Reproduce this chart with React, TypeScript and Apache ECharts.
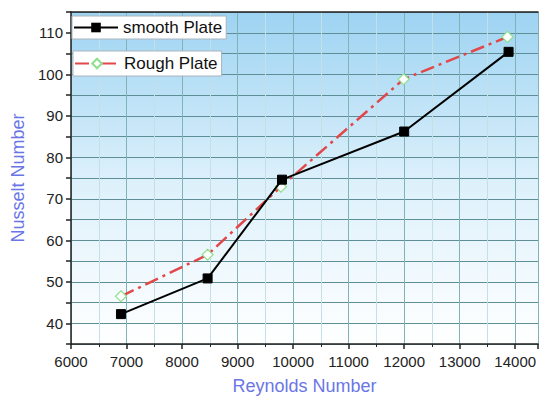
import React, { useEffect, useRef } from "react";
import * as echarts from "echarts";

const reynoldsSmooth = [6900, 8460, 9800, 12000, 13880];
const nusseltSmooth = [42.2, 50.8, 74.6, 86.2, 105.4];
const reynoldsRough = [6900, 8460, 9780, 11990, 13860];
const nusseltRough = [46.5, 56.5, 72.9, 98.8, 109.0];

export default function App() {
  const ref = useRef<HTMLDivElement>(null);
  useEffect(() => {
    const chart = echarts.init(ref.current!, null, { renderer: "svg" });
    const font = "Liberation Sans, Arial, sans-serif";
    const pair = (xs: number[], ys: number[]) => xs.map((x, i) => [x, ys[i]]);
    chart.setOption({
      animation: false,
      backgroundColor: "#ffffff",
      textStyle: { fontFamily: font },
      grid: {
        left: 71,
        right: 3,
        top: 12,
        bottom: 54,
        outerBoundsMode: "none",
        containLabel: false,
        show: true,
        borderWidth: 0,
        backgroundColor: new echarts.graphic.LinearGradient(0, 0, 0, 1, [
          { offset: 0, color: "#9dd3f2" },
          { offset: 0.5, color: "#dcf0fb" },
          { offset: 1, color: "#ffffff" },
        ]),
      },
      legend: [
        {
          data: ["smooth Plate"],
          left: 72,
          top: 16,
          orient: "vertical",
          backgroundColor: "#ffffff",
          borderColor: "#aab4bc",
          borderWidth: 1,
          borderRadius: 0,
          padding: [3, 4, 3, 1],
          itemWidth: 44,
          itemHeight: 12,
          textStyle: { fontSize: 17, color: "#111", fontFamily: font },
        },
        {
          data: ["Rough Plate"],
          left: 73,
          top: 51,
          orient: "vertical",
          backgroundColor: "#ffffff",
          borderColor: "#aab4bc",
          borderWidth: 1,
          borderRadius: 0,
          padding: [4, 4, 4, 1],
          itemWidth: 44,
          itemHeight: 12,
          textStyle: { fontSize: 17, color: "#111", fontFamily: font },
        },
      ],
      xAxis: [
        {
          type: "value",
          min: 6000,
          max: 14410,
          interval: 1000,
          name: "Reynolds Number",
          nameLocation: "middle",
          nameGap: 33,
          nameTextStyle: { color: "#6a76e6", fontSize: 18, fontFamily: font },
          axisLine: { show: true, onZero: false, lineStyle: { color: "#222", width: 1.5 } },
          axisTick: { show: true, inside: false, length: 5, lineStyle: { color: "#222", width: 1.5 } },
          minorTick: { show: true, splitNumber: 2, length: 3, lineStyle: { color: "#222" } },
          axisLabel: {
            color: "#222",
            fontSize: 15,
            margin: 10,
            showMaxLabel: false,
            fontFamily: font,
            formatter: (v: number) => String(v),
          },
          splitLine: { show: true, lineStyle: { color: "#7fb3b8", width: 1 } },
          minorSplitLine: { show: true, lineStyle: { color: "#c4e0e6", width: 1 } },
        },
        {
          type: "value",
          position: "top",
          min: 6000,
          max: 14410,
          axisLine: { show: true, lineStyle: { color: "#222", width: 1.5 } },
          axisTick: { show: false },
          axisLabel: { show: false },
          splitLine: { show: false },
        },
      ],
      yAxis: {
        type: "value",
        min: 35,
        max: 115,
        interval: 5,
        name: "Nusselt Number",
        nameLocation: "middle",
        nameGap: 40,
        nameTextStyle: { color: "#6a76e6", fontSize: 18, fontFamily: font },
        axisLine: { show: true, onZero: false, lineStyle: { color: "#222", width: 1.5 } },
        axisTick: { show: true, length: 5, lineStyle: { color: "#222", width: 1.5 } },
        axisLabel: {
          color: "#222",
          fontSize: 15,
          margin: 8,
          fontFamily: font,
          formatter: (v: number) => (v % 10 === 0 && v >= 40 && v <= 110 ? String(v) : ""),
        },
        splitLine: { show: true, lineStyle: { color: "#5f8f96", width: 1 } },
      },
      series: [
        {
          name: "smooth Plate",
          type: "line",
          data: pair(reynoldsSmooth, nusseltSmooth),
          symbol: "rect",
          symbolSize: 9,
          itemStyle: { color: "#000000", borderColor: "#000000" },
          lineStyle: { color: "#000000", width: 2 },
          z: 3,
        },
        {
          name: "Rough Plate",
          type: "line",
          data: pair(reynoldsRough, nusseltRough),
          symbol: "diamond",
          symbolSize: [11, 11],
          itemStyle: { color: "#ffffff", borderColor: "#8ee08e", borderWidth: 1.2 },
          lineStyle: { color: "#e2474a", width: 2.5, type: [14, 5, 3, 5] },
          z: 2,
        },
      ],
    });
    return () => chart.dispose();
  }, []);
  return (
    <div
      ref={ref}
      style={{ position: "fixed", left: 0, top: 0, width: 541, height: 398 }}
    />
  );
}
